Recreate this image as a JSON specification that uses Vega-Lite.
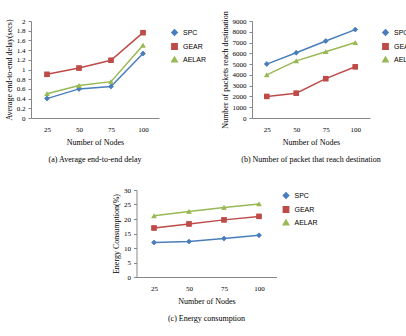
{
  "$schema": "https://vega.github.io/schema/vega-lite/v6.json",
  "background": "white",
  "padding": {"left": 5, "top": 10, "right": 0, "bottom": 0},
  "datasets": {
    "a": [
      {"nodes": "25", "series": "SPC", "value": 0.4},
      {"nodes": "50", "series": "SPC", "value": 0.6},
      {"nodes": "75", "series": "SPC", "value": 0.65},
      {"nodes": "100", "series": "SPC", "value": 1.33},
      {"nodes": "25", "series": "GEAR", "value": 0.9},
      {"nodes": "50", "series": "GEAR", "value": 1.03},
      {"nodes": "75", "series": "GEAR", "value": 1.19},
      {"nodes": "100", "series": "GEAR", "value": 1.76},
      {"nodes": "25", "series": "AELAR", "value": 0.5},
      {"nodes": "50", "series": "AELAR", "value": 0.67},
      {"nodes": "75", "series": "AELAR", "value": 0.75},
      {"nodes": "100", "series": "AELAR", "value": 1.5}
    ],
    "b": [
      {"nodes": "25", "series": "SPC", "value": 5000},
      {"nodes": "50", "series": "SPC", "value": 6050},
      {"nodes": "75", "series": "SPC", "value": 7150},
      {"nodes": "100", "series": "SPC", "value": 8200},
      {"nodes": "25", "series": "GEAR", "value": 2000},
      {"nodes": "50", "series": "GEAR", "value": 2300},
      {"nodes": "75", "series": "GEAR", "value": 3650},
      {"nodes": "100", "series": "GEAR", "value": 4750},
      {"nodes": "25", "series": "AELAR", "value": 4000},
      {"nodes": "50", "series": "AELAR", "value": 5300},
      {"nodes": "75", "series": "AELAR", "value": 6150},
      {"nodes": "100", "series": "AELAR", "value": 7000}
    ],
    "c": [
      {"nodes": "25", "series": "SPC", "value": 11.9},
      {"nodes": "50", "series": "SPC", "value": 12.2},
      {"nodes": "75", "series": "SPC", "value": 13.3},
      {"nodes": "100", "series": "SPC", "value": 14.4},
      {"nodes": "25", "series": "GEAR", "value": 16.9},
      {"nodes": "50", "series": "GEAR", "value": 18.3},
      {"nodes": "75", "series": "GEAR", "value": 19.7},
      {"nodes": "100", "series": "GEAR", "value": 20.9},
      {"nodes": "25", "series": "AELAR", "value": 21.1},
      {"nodes": "50", "series": "AELAR", "value": 22.6},
      {"nodes": "75", "series": "AELAR", "value": 24.0},
      {"nodes": "100", "series": "AELAR", "value": 25.2}
    ]
  },
  "config": {
    "view": {"stroke": null},
    "font": "Liberation Serif",
    "axis": {
      "grid": false,
      "domainColor": "#868686",
      "tickColor": "#868686",
      "labelFont": "Liberation Serif",
      "labelFontSize": 7,
      "labelColor": "#000000",
      "titleFont": "Liberation Serif",
      "titleFontSize": 8,
      "titleFontWeight": "normal",
      "titleColor": "#000000"
    },
    "axisX": {"ticks": false, "labelPadding": 7, "titlePadding": 6, "labelAngle": 0},
    "axisY": {"tickSize": 3, "labelPadding": 3, "titlePadding": 3},
    "legend": {
      "title": null,
      "labelFont": "Liberation Sans",
      "labelFontSize": 7,
      "labelColor": "#000000",
      "labelOffset": 5,
      "symbolSize": 28,
      "rowPadding": 1,
      "offset": 4,
      "padding": 8
    },
    "title": {
      "orient": "bottom",
      "font": "Liberation Serif",
      "fontSize": 8,
      "fontWeight": "normal",
      "color": "#000000",
      "offset": 10
    }
  },
  "vconcat": [
    {
      "hconcat": [
        {
          "title": "(a) Average end-to-end delay",
          "width": 128,
          "height": 97,
          "data": {"name": "a"},
          "encoding": {
            "x": {"field": "nodes", "type": "ordinal", "sort": ["25", "50", "75", "100"], "scale": {"type": "point", "padding": 0.5}, "title": "Number of Nodes"},
            "y": {"field": "value", "type": "quantitative", "scale": {"domain": [0, 2]}, "axis": {"values": [0, 0.2, 0.4, 0.6, 0.8, 1, 1.2, 1.4, 1.6, 1.8, 2], "format": "~g"}, "title": "Average end-to-end delay(secs)"},
            "color": {"field": "series", "type": "nominal", "scale": {"domain": ["SPC", "GEAR", "AELAR"], "range": ["#4a7ebb", "#be4b48", "#98b954"]}},
            "shape": {"field": "series", "type": "nominal", "scale": {"domain": ["SPC", "GEAR", "AELAR"], "range": ["diamond", "square", "triangle-up"]}}
          },
          "layer": [
            {"mark": {"type": "line", "strokeWidth": 1.5}},
            {"mark": {"type": "point", "filled": true, "size": 25, "opacity": 1}}
          ]
        },
        {
          "title": "(b) Number of packet that reach destination",
          "width": 118,
          "height": 97,
          "data": {"name": "b"},
          "encoding": {
            "x": {"field": "nodes", "type": "ordinal", "sort": ["25", "50", "75", "100"], "scale": {"type": "point", "padding": 0.5}, "title": "Number of Nodes"},
            "y": {"field": "value", "type": "quantitative", "scale": {"domain": [0, 9000]}, "axis": {"values": [0, 1000, 2000, 3000, 4000, 5000, 6000, 7000, 8000, 9000], "format": "d"}, "title": "Number of packets reach destination"},
            "color": {"field": "series", "type": "nominal", "scale": {"domain": ["SPC", "GEAR", "AELAR"], "range": ["#4a7ebb", "#be4b48", "#98b954"]}},
            "shape": {"field": "series", "type": "nominal", "scale": {"domain": ["SPC", "GEAR", "AELAR"], "range": ["diamond", "square", "triangle-up"]}}
          },
          "layer": [
            {"mark": {"type": "line", "strokeWidth": 1.5}},
            {"mark": {"type": "point", "filled": true, "size": 25, "opacity": 1}}
          ]
        }
      ],
      "spacing": 6,
      "resolve": {"scale": {"y": "independent", "color": "independent", "shape": "independent"}}
    },
    {
      "title": "(c) Energy consumption",
      "width": 140,
      "height": 87,
      "data": {"name": "c"},
      "encoding": {
        "x": {"field": "nodes", "type": "ordinal", "sort": ["25", "50", "75", "100"], "scale": {"type": "point", "padding": 0.5}, "title": "Number of Nodes"},
        "y": {"field": "value", "type": "quantitative", "scale": {"domain": [0, 30]}, "axis": {"values": [0, 5, 10, 15, 20, 25, 30]}, "title": "Energy Consumption(%)"},
        "color": {"field": "series", "type": "nominal", "scale": {"domain": ["SPC", "GEAR", "AELAR"], "range": ["#4a7ebb", "#be4b48", "#98b954"]}, "legend": {"padding": 2}},
        "shape": {"field": "series", "type": "nominal", "scale": {"domain": ["SPC", "GEAR", "AELAR"], "range": ["diamond", "square", "triangle-up"]}, "legend": {"padding": 2}}
      },
      "layer": [
        {"mark": {"type": "line", "strokeWidth": 1.5}},
        {"mark": {"type": "point", "filled": true, "size": 25, "opacity": 1}}
      ]
    }
  ],
  "spacing": 22,
  "center": true,
  "resolve": {"scale": {"y": "independent", "color": "independent", "shape": "independent"}}
}
